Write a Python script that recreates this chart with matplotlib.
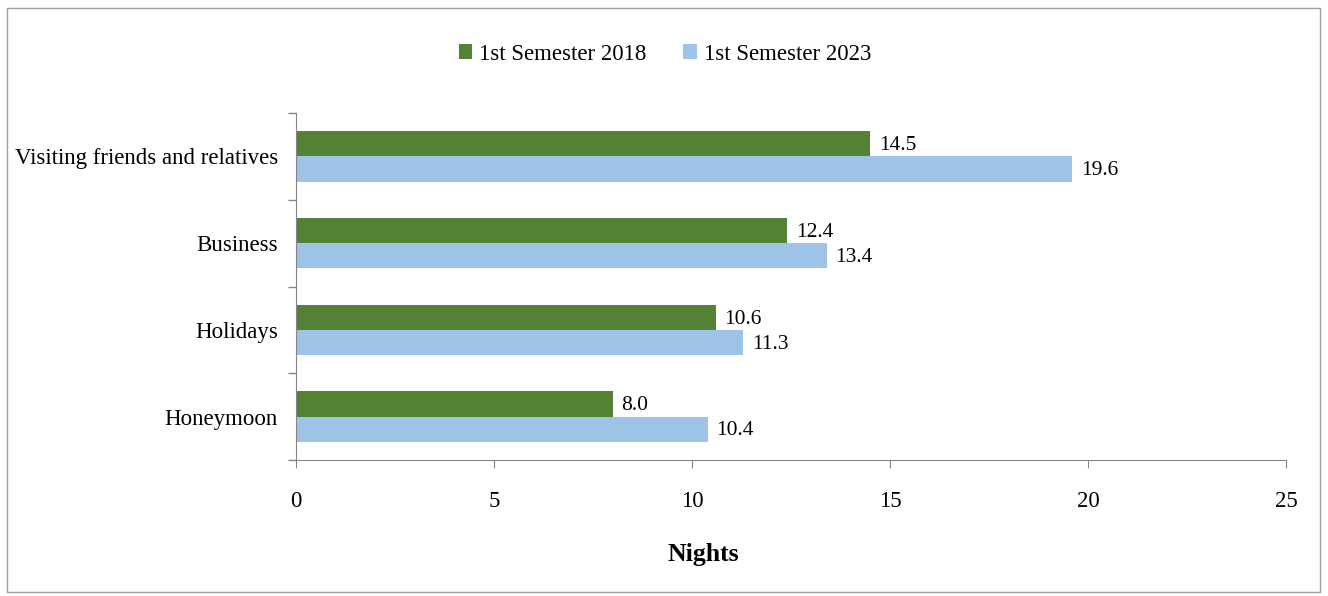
import numpy as np
import matplotlib.pyplot as plt
from matplotlib.patches import Rectangle

categories = ["Honeymoon", "Holidays", "Business", "Visiting friends and relatives"]
sem_2018 = [8.0, 10.6, 12.4, 14.5]
sem_2023 = [10.4, 11.3, 13.4, 19.6]
series_names = ["1st Semester 2018", "1st Semester 2023"]
colors = ["#548235", "#9DC3E6"]

plt.rcParams['font.family'] = ['Liberation Serif', 'DejaVu Serif']

fig = plt.figure(figsize=(13.28, 5.96), dpi=100)
ax = fig.add_axes([296 / 1328, 1 - 460 / 596, 990 / 1328, 347 / 596])

# thin grey frame round the whole chart
fig.patches.append(Rectangle((7 / 1328, 4 / 596), 1313 / 1328, 584 / 596,
                             transform=fig.transFigure, fill=False,
                             edgecolor="#a0a0a0", linewidth=1))

y = np.arange(len(categories))
h = 0.29
b1 = ax.barh(y + h / 2, sem_2018, height=h, color=colors[0], label=series_names[0])
b2 = ax.barh(y - h / 2, sem_2023, height=h, color=colors[1], label=series_names[1])

for bars, vals in ((b1, sem_2018), (b2, sem_2023)):
    for bar, v in zip(bars, vals):
        ax.text(bar.get_width() + 0.22, bar.get_y() + bar.get_height() / 2 - 0.02,
                f"{v:.1f}", va="center", ha="left", fontsize=15.5)

ax.set_xlim(0, 25)
ax.set_ylim(-0.5, 3.5)
ax.set_xticks(range(0, 26, 5))
ax.set_yticks(y)
ax.set_yticklabels(categories)
ax.set_yticks(np.arange(-0.5, 4, 1), minor=True)
ax.tick_params(axis="y", which="major", length=0, labelsize=16.5, pad=13)
ax.tick_params(axis="y", which="minor", length=6, color="#868686", width=1)
ax.tick_params(axis="x", length=6, color="#868686", labelsize=16.5, pad=16)

for s in ("top", "right"):
    ax.spines[s].set_visible(False)
for s in ("left", "bottom"):
    ax.spines[s].set_color("#868686")

fig.text(703 / 1328, 1 - 555 / 596, "Nights", fontsize=18.5, fontweight="bold",
         ha="center", va="center")

fig.legend(loc="center", bbox_to_anchor=(665 / 1328, 1 - 54 / 596), ncol=2,
           frameon=False, fontsize=16.5, handlelength=0.6, handleheight=0.6,
           handletextpad=0.3, columnspacing=1.6)

fig.savefig("out.png", dpi=100)
